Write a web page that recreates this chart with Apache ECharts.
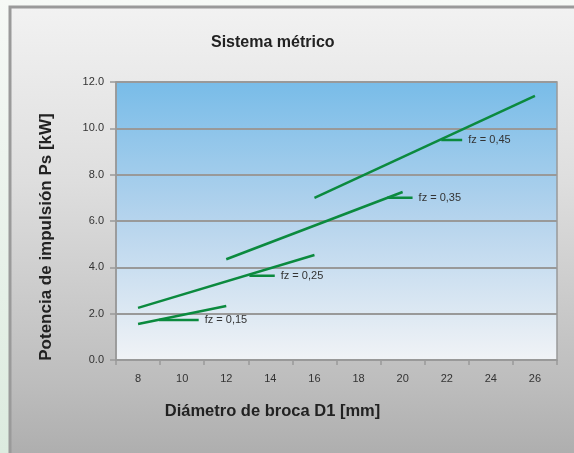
<!DOCTYPE html>
<html>
<head>
<meta charset="utf-8">
<script src="https://cdn.jsdelivr.net/npm/echarts@6/dist/echarts.min.js"></script>
<style>
  html, body { margin: 0; padding: 0; }
  #chart { width: 574px; height: 453px; }
</style>
</head>
<body>
<div id="chart"></div>
<script>
// ejes
const xCategories = ['8', '10', '12', '14', '16', '18', '20', '22', '24', '26']
const yTicks = [0, 2, 4, 6, 8, 10, 12]

// curvas de potencia (D1 [mm], Ps [kW])
const fz015 = [[8, 1.55], [12, 2.33]]
const fz025 = [[8, 2.25], [16, 4.53]]
const fz035 = [[12, 4.35], [20, 7.25]]
const fz045 = [[16, 7.0], [26, 11.4]]

// lineas de referencia para las etiquetas
const lead015 = [[8.95, 1.73], [10.75, 1.73]]
const lead025 = [[13.05, 3.64], [14.2, 3.64]]
const lead035 = [[19.3, 7.0], [20.45, 7.0]]
const lead045 = [[21.75, 9.5], [22.7, 9.5]]
const leadNames = ['fz = 0,15', 'fz = 0,25', 'fz = 0,35', 'fz = 0,45']

const green = '#0b8a3e'
const gridGrey = '#999999'

const chart = echarts.init(document.getElementById('chart'))

function curve(name, data) {
  return {
    name: name,
    type: 'line',
    xAxisIndex: 1,
    data: data,
    symbol: 'none',
    silent: true,
    lineStyle: { color: green, width: 2.5 }
  }
}

function leader(name, data) {
  return {
    type: 'line',
    xAxisIndex: 1,
    data: data,
    symbol: 'none',
    silent: true,
    lineStyle: { color: green, width: 2.5 },
    endLabel: {
      show: true,
      distance: 6,
      formatter: name,
      color: '#333',
      fontSize: 11,
      fontFamily: 'Liberation Sans'
    }
  }
}

const op = {
  animation: false,
  backgroundColor: {
    type: 'linear', x: 0, y: 0, x2: 0, y2: 1,
    colorStops: [
      { offset: 0, color: '#f6f9f6' },
      { offset: 1, color: '#dcebdf' }
    ]
  },
  graphic: [
    {
      type: 'rect',
      z: -10,
      shape: { x: 10, y: 7, width: 600, height: 500 },
      style: {
        fill: {
          type: 'linear', x: 0, y: 0, x2: 0, y2: 1,
          colorStops: [
            { offset: 0, color: '#f2f2f2' },
            { offset: 0.35, color: '#dedede' },
            { offset: 0.75, color: '#bdbdbd' },
            { offset: 1, color: '#a3a3a3' }
          ]
        },
        stroke: '#9a9a9a',
        lineWidth: 3
      }
    },
    {
      type: 'text',
      x: 46,
      y: 237,
      rotation: Math.PI / 2,
      style: {
        text: 'Potencia de impulsión Ps [kW]',
        fontSize: 17,
        fontWeight: 'bold',
        fontFamily: 'Liberation Sans',
        fill: '#222',
        align: 'center',
        verticalAlign: 'middle'
      }
    }
  ],
  title: {
    text: 'Sistema métrico',
    left: 206,
    top: 30,
    textStyle: {
      fontSize: 16,
      fontWeight: 'bold',
      fontFamily: 'Liberation Sans',
      color: '#222'
    }
  },
  grid: {
    left: 116,
    top: 82,
    right: 17,
    bottom: 93,
    show: true,
    backgroundColor: {
      type: 'linear', x: 0, y: 0, x2: 0, y2: 1,
      colorStops: [
        { offset: 0, color: '#78bce8' },
        { offset: 0.5, color: '#b6d4ed' },
        { offset: 1, color: '#f1f3f6' }
      ]
    },
    borderColor: gridGrey,
    borderWidth: 1.5
  },
  xAxis: [
    {
      type: 'category',
      data: xCategories,
      boundaryGap: true,
      name: 'Diámetro de broca D1 [mm]',
      nameLocation: 'middle',
      nameGap: 43,
      nameTextStyle: {
        fontSize: 16.5,
        fontWeight: 'bold',
        fontFamily: 'Liberation Sans',
        color: '#222',
        padding: [0, 128, 0, 0]
      },
      axisLine: { lineStyle: { color: gridGrey, width: 1.5 } },
      axisTick: { show: true, interval: 0, length: 5, lineStyle: { color: gridGrey, width: 1.5 } },
      axisLabel: { color: '#333', fontSize: 11, fontFamily: 'Liberation Sans', margin: 13, interval: 0 }
    },
    {
      type: 'value',
      min: 7,
      max: 27,
      show: false,
      splitLine: { show: false }
    }
  ],
  yAxis: {
    type: 'value',
    min: yTicks[0],
    max: yTicks[yTicks.length - 1],
    interval: 2,
    axisLine: { show: true, lineStyle: { color: gridGrey, width: 1.5 } },
    axisTick: { show: true, length: 6, lineStyle: { color: gridGrey, width: 1.5 } },
    axisLabel: {
      color: '#333',
      fontSize: 11,
      fontFamily: 'Liberation Sans',
      margin: 12,
      formatter: v => v.toFixed(1)
    },
    splitLine: { lineStyle: { color: gridGrey, width: 2 } }
  },
  series: [
    curve('fz = 0,15', fz015),
    curve('fz = 0,25', fz025),
    curve('fz = 0,35', fz035),
    curve('fz = 0,45', fz045),
    leader(leadNames[0], lead015),
    leader(leadNames[1], lead025),
    leader(leadNames[2], lead035),
    leader(leadNames[3], lead045)
  ]
}

chart.setOption(op)
</script>
</body>
</html>
